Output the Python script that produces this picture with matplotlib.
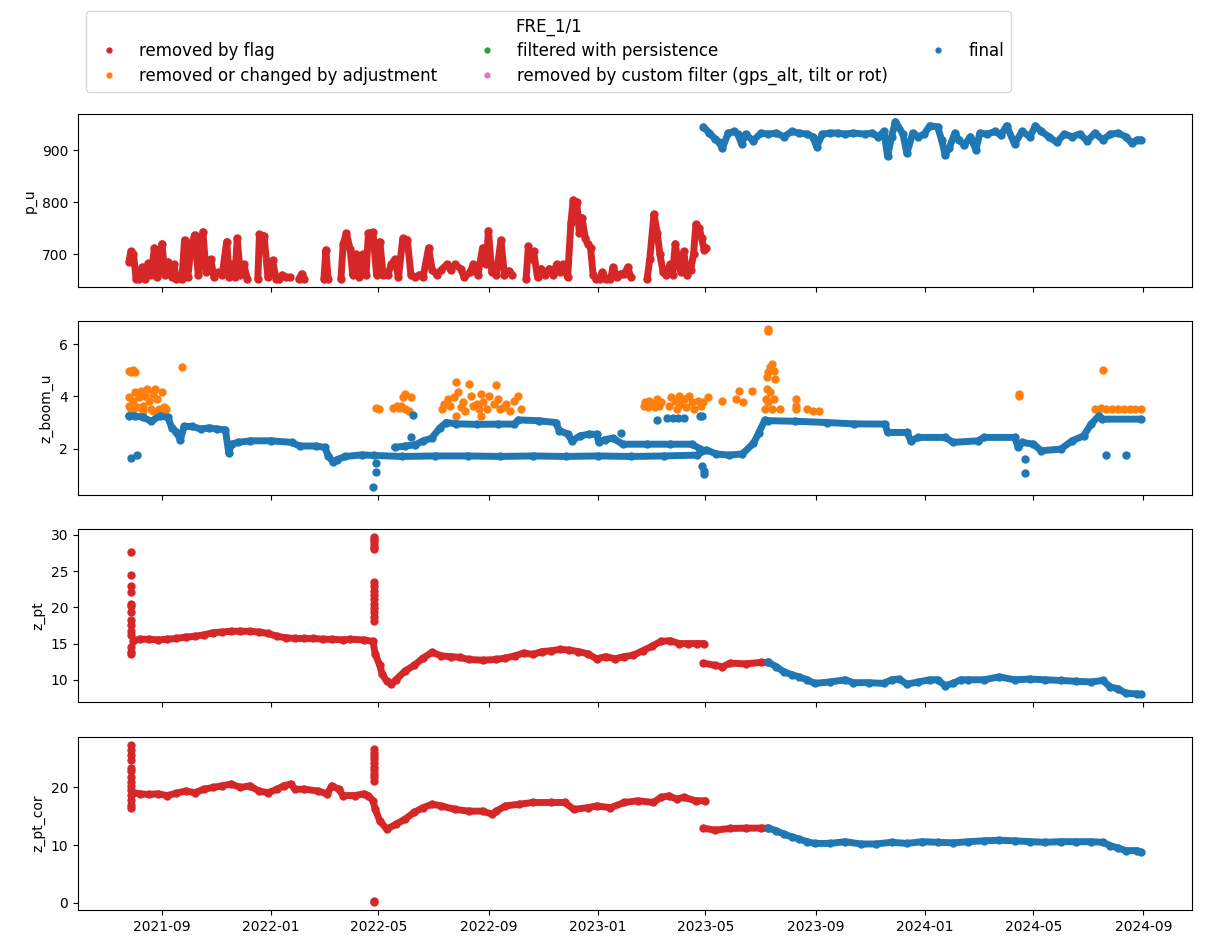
import numpy as np
import pandas as pd
import matplotlib
matplotlib.use('Agg')
import matplotlib.pyplot as plt
import matplotlib.dates as mdates
from matplotlib.lines import Line2D

nan = np.nan

# times are decimal years
# ---------------- p_u ----------------
pu_flag_t = [2021.565, 2021.571, 2021.579, 2021.587, 2021.596, 2021.606, 2021.615, 2021.624, 2021.633, 2021.643,
             2021.652, 2021.666, 2021.675, 2021.685, 2021.696, 2021.703, 2021.710, 2021.727, 2021.735, 2021.745,
             2021.755, 2021.766, 2021.777, 2021.791, 2021.801, 2021.815, 2021.825, 2021.836, 2021.850, 2021.864,
             2021.872, 2021.881, 2021.889, 2021.896, 2021.906, 2021.916, 2021.927, 2021.940, 2021.959, 2021.964,
             2021.978, 2021.990, 2022.004, 2022.015, 2022.025, 2022.034, 2022.045, 2022.057, 2022.070, 2022.085,
             2022.093, 2022.101, 2022.130, 2022.161, 2022.167, 2022.174, 2022.190, 2022.213, 2022.220, 2022.230,
             2022.241, 2022.249, 2022.258, 2022.269, 2022.280, 2022.290, 2022.297, 2022.311, 2022.322, 2022.332,
             2022.342, 2022.356, 2022.367, 2022.378, 2022.389, 2022.402, 2022.416, 2022.427, 2022.439, 2022.453,
             2022.464, 2022.481, 2022.492, 2022.506, 2022.520, 2022.537, 2022.548, 2022.562, 2022.579, 2022.590,
             2022.607, 2022.618, 2022.632, 2022.646, 2022.657, 2022.664, 2022.674, 2022.688, 2022.702, 2022.713,
             2022.727, 2022.737, 2022.760, 2022.779, 2022.786, 2022.795, 2022.802, 2022.814, 2022.825, 2022.836,
             2022.850, 2022.861, 2022.872, 2022.883, 2022.892, 2022.906, 2022.916, 2022.923, 2022.934, 2022.942,
             2022.950, 2022.960, 2022.967, 2022.976, 2022.984, 2022.992, 2022.998, 2023.004, 2023.012, 2023.023,
             2023.030, 2023.037, 2023.045, 2023.058, 2023.068, 2023.079, 2023.090, 2023.099, 2023.120, 2023.149,
             2023.157, 2023.170, 2023.180, 2023.188, 2023.198, 2023.207, 2023.219, 2023.227, 2023.235, 2023.244,
             2023.253, 2023.261, 2023.270, 2023.282, 2023.291, 2023.298, 2023.308, 2023.316, 2023.323, 2023.330]
pu_flag_v = [685, 705, 700, 652, 652, 675, 652, 682, 660, 712,
             655, 720, 660, 685, 655, 680, 652, 652, 727, 655,
             715, 737, 660, 743, 665, 690, 655, 665, 660, 724,
             655, 680, 655, 730, 660, 680, 652, nan, 652, 738,
             735, 655, 688, 652, 652, 660, 655, 655, nan, 652,
             662, 652, nan, 652, 708, 652, nan, 652, 720, 740,
             710, 660, 700, 655, 700, 660, 740, 742, 660, 724,
             660, 660, 680, 690, 655, 730, 728, 660, 655, 660,
             655, 712, 670, 660, 670, 680, 670, 680, 672, 655,
             665, 680, 660, 712, 680, 745, 665, 660, 727, 660,
             668, 660, nan, 652, 715, 690, 705, 655, 672, 660,
             672, 660, 680, 665, 680, 655, 760, 804, 800, 740,
             770, 730, 720, 712, 660, 652, nan, 652, 665, 652,
             nan, 652, 675, 655, 662, 662, 675, 655, nan, 652,
             690, 777, 740, 700, 665, 660, 680, 660, 720, 680,
             665, 705, 660, 670, 700, 757, 750, 730, 708, 712]

pu_final_t = [2023.321, 2023.338, 2023.356, 2023.368, 2023.379, 2023.397, 2023.415, 2023.426, 2023.438, 2023.450,
              2023.473, 2023.497, 2023.520, 2023.544, 2023.567, 2023.591, 2023.614, 2023.638, 2023.655, 2023.667,
              2023.685, 2023.708, 2023.732, 2023.755, 2023.779, 2023.814, 2023.837, 2023.855, 2023.873, 2023.884,
              2023.896, 2023.908, 2023.931, 2023.943, 2023.961, 2023.978, 2023.996, 2024.013, 2024.037, 2024.049,
              2024.060, 2024.072, 2024.090, 2024.101, 2024.119, 2024.137, 2024.154, 2024.166, 2024.189, 2024.213,
              2024.230, 2024.248, 2024.272, 2024.295, 2024.319, 2024.336, 2024.354, 2024.377, 2024.401, 2024.424,
              2024.448, 2024.471, 2024.495, 2024.518, 2024.542, 2024.565, 2024.589, 2024.612, 2024.630, 2024.647,
              2024.659]
pu_final_v = [945, 934, 922, 916, 904, 933, 936, 931, 912, 931,
              918, 933, 931, 933, 926, 936, 933, 931, 926, 907,
              931, 933, 933, 931, 933, 931, 933, 926, 936, 888,
              926, 955, 931, 894, 933, 926, 931, 947, 945, 920,
              891, 904, 933, 920, 910, 926, 901, 933, 931, 936,
              929, 947, 912, 936, 926, 947, 936, 926, 915, 931,
              926, 931, 918, 933, 920, 931, 933, 926, 914, 920,
              920]

# ---------------- z_boom_u ----------------
boom_final_t = [2021.564, 2021.583, 2021.608, 2021.633, 2021.659, 2021.684, 2021.696, 2021.709, 2021.722, 2021.734,
                2021.759, 2021.785, 2021.810, 2021.835, 2021.860, 2021.870, 2021.879, 2021.898, 2021.936, 2021.999,
                2022.062, 2022.087, 2022.138, 2022.163, 2022.175, 2022.188, 2022.201, 2022.226, 2022.276, 2022.314,
                2022.400, 2022.500, 2022.600, 2022.700, 2022.800, 2022.900, 2023.000, 2023.100, 2023.200, 2023.300,
                2023.330, 2023.360, 2023.400, 2023.440, 2023.474, 2023.490, 2023.509, 2023.520, 2023.600, 2023.700,
                2023.780, 2023.876, 2023.884, 2023.943, 2023.955, 2023.978, 2024.060, 2024.084, 2024.160, 2024.178,
                2024.272, 2024.284, 2024.295, 2024.330, 2024.354, 2024.413, 2024.448, 2024.483, 2024.506, 2024.530,
                2024.540, 2024.659]
boom_final_v = [3.26, 3.25, 3.20, 3.05, 3.25, 3.20, 2.80, 2.65, 2.35, 2.85,
                2.85, 2.75, 2.80, 2.75, 2.72, 1.85, 2.17, 2.24, 2.30, 2.30,
                2.24, 2.10, 2.10, 2.05, 1.72, 1.50, 1.58, 1.70, 1.76, 1.74,
                1.70, 1.72, 1.72, 1.70, 1.72, 1.70, 1.72, 1.70, 1.72, 1.75,
                1.95, 1.80, 1.75, 1.80, 2.20, 2.60, 3.10, 3.07, 3.05, 3.00,
                2.95, 2.94, 2.62, 2.62, 2.30, 2.43, 2.43, 2.24, 2.30, 2.43,
                2.43, 2.05, 2.24, 2.17, 1.92, 1.98, 2.30, 2.49, 2.94, 3.26,
                3.13, 3.13]
boom_upper_t = [2022.377, 2022.410, 2022.440, 2022.465, 2022.490, 2022.516, 2022.535, 2022.566, 2022.629, 2022.692,
                2022.743, 2022.755, 2022.818, 2022.869, 2022.881, 2022.906, 2022.919, 2022.944, 2022.970, 2022.995,
                2023.001, 2023.020, 2023.045, 2023.074, 2023.150, 2023.220, 2023.286, 2023.310]
boom_upper_v = [2.05, 2.10, 2.15, 2.30, 2.40, 2.80, 3.00, 2.95, 2.93, 2.94,
                2.94, 3.10, 3.07, 3.00, 2.69, 2.56, 2.30, 2.49, 2.55, 2.55,
                2.24, 2.35, 2.40, 2.17, 2.17, 2.17, 2.17, 2.00]
boom_dots_t = [2021.570, 2021.589, 2022.312, 2022.320, 2022.320, 2022.434, 2022.427, 2023.070, 2023.178, 2023.209,
               2023.227, 2023.244, 2023.262, 2023.311, 2023.318, 2023.318, 2023.323, 2023.323, 2024.303, 2024.303,
               2024.551, 2024.614]
boom_dots_v = [1.66, 1.76, 0.54, 1.12, 1.44, 3.29, 2.45, 2.60, 3.10, 3.17,
               3.17, 3.17, 3.17, 3.24, 3.24, 1.34, 1.02, 1.15, 1.62, 1.05,
               1.75, 1.75]
boom_adj_t = [2021.564, 2021.570, 2021.577, 2021.583, 2021.564, 2021.564, 2021.570, 2021.577, 2021.583, 2021.589,
              2021.595, 2021.602, 2021.608, 2021.614, 2021.621, 2021.627, 2021.633, 2021.640, 2021.646, 2021.652,
              2021.658, 2021.665, 2021.671, 2021.677, 2021.573, 2021.608, 2021.640, 2021.665, 2021.728,
              2022.320, 2022.329, 2022.371, 2022.383, 2022.390, 2022.396, 2022.402, 2022.408, 2022.408, 2022.427,
              2022.421,
              2022.522, 2022.528, 2022.541, 2022.547, 2022.560, 2022.566, 2022.572, 2022.579, 2022.585, 2022.591,
              2022.604, 2022.610, 2022.616, 2022.629, 2022.635, 2022.642, 2022.648, 2022.661, 2022.667, 2022.680,
              2022.686, 2022.692, 2022.698, 2022.711, 2022.717, 2022.730, 2022.743, 2022.755, 2022.762, 2022.566,
              2022.642,
              2023.139, 2023.142, 2023.151, 2023.156, 2023.168, 2023.174, 2023.180, 2023.186, 2023.192, 2023.215,
              2023.221, 2023.233, 2023.239, 2023.245, 2023.250, 2023.262, 2023.268, 2023.276, 2023.286, 2023.291,
              2023.303, 2023.315, 2023.321, 2023.335, 2023.379, 2023.421, 2023.429, 2023.441, 2023.471,
              2023.509, 2023.511, 2023.514, 2023.516, 2023.520, 2023.526, 2023.532, 2023.538, 2023.541, 2023.520,
              2023.526, 2023.532, 2023.538, 2023.518, 2023.518, 2023.556, 2023.603, 2023.605, 2023.605, 2023.638,
              2023.655, 2023.673, 2024.287, 2024.287, 2024.544, 2024.518, 2024.536, 2024.553, 2024.571, 2024.589,
              2024.606, 2024.624, 2024.641, 2024.659]
boom_adj_v = [4.99, 4.93, 5.02, 4.95, 3.97, 3.65, 3.52, 3.84, 4.16, 3.58,
              3.97, 4.22, 3.65, 4.03, 4.29, 3.84, 3.52, 4.10, 4.29, 3.90,
              3.52, 4.16, 3.58, 3.52, 3.45, 3.45, 3.45, 3.45, 5.12,
              3.56, 3.52, 3.56, 3.65, 3.56, 3.65, 3.97, 4.10, 3.52, 3.97,
              3.45,
              3.52, 3.71, 3.90, 3.65, 3.97, 4.55, 4.16, 3.58, 3.78, 3.45,
              4.48, 4.03, 3.65, 3.71, 3.52, 4.10, 3.78, 3.52, 4.03, 3.71,
              4.42, 3.90, 3.52, 3.58, 3.71, 3.45, 3.84, 4.01, 3.52, 3.26,
              3.26,
              3.65, 3.78, 3.58, 3.84, 3.71, 3.58, 3.90, 3.65, 3.78, 3.65,
              3.97, 3.84, 3.52, 4.01, 3.71, 3.90, 3.58, 4.01, 3.78, 3.52,
              3.84, 3.65, 3.78, 3.97, 3.84, 3.90, 4.22, 3.78, 4.22,
              3.52, 3.90, 4.29, 4.74, 4.93, 5.12, 5.25, 4.99, 4.67, 3.78,
              4.16, 3.52, 3.90, 6.57, 6.49, 3.52, 3.90, 3.65, 3.52, 3.52,
              3.45, 3.45, 4.10, 4.01, 5.02, 3.52, 3.55, 3.50, 3.52, 3.50,
              3.52, 3.50, 3.52, 3.50]

# ---------------- z_pt ----------------
zpt_flag_t = [2021.578, 2021.598, 2021.626, 2021.654, 2021.682, 2021.710, 2021.738, 2021.766, 2021.794, 2021.822,
              2021.850, 2021.878, 2021.906, 2021.934, 2021.962, 2021.990, 2022.018, 2022.045, 2022.073, 2022.101,
              2022.129, 2022.157, 2022.185, 2022.220, 2022.241, 2022.283, 2022.311, 2022.318, 2022.332, 2022.339,
              2022.353, 2022.367, 2022.381, 2022.409, 2022.437, 2022.464, 2022.492, 2022.520, 2022.548, 2022.576,
              2022.604, 2022.646, 2022.688, 2022.716, 2022.744, 2022.772, 2022.800, 2022.828, 2022.855, 2022.883,
              2022.911, 2022.939, 2022.967, 2022.995, 2023.023, 2023.051, 2023.079, 2023.107, 2023.135, 2023.163,
              2023.191, 2023.219, 2023.247, 2023.274, 2023.302, 2023.323, 2023.322, 2023.321, 2023.356, 2023.379,
              2023.403, 2023.450, 2023.497, 2023.520]
zpt_flag_v = [15.4, 15.6, 15.6, 15.5, 15.6, 15.7, 15.9, 16.0, 16.2, 16.5,
              16.6, 16.7, 16.7, 16.7, 16.6, 16.4, 16.0, 15.8, 15.7, 15.7,
              15.7, 15.6, 15.6, 15.5, 15.6, 15.5, 15.3, 13.5, 12.0, 10.8,
              9.8, 9.4, 10.0, 11.2, 12.0, 13.0, 13.8, 13.3, 13.2, 13.1,
              12.8, 12.7, 12.8, 13.0, 13.3, 13.7, 13.5, 13.9, 14.0, 14.2,
              14.1, 13.9, 13.6, 12.9, 13.2, 12.9, 13.2, 13.4, 14.0, 14.6,
              15.3, 15.4, 15.0, 15.0, 15.0, 15.0, nan, 12.3, 12.0, 11.8,
              12.3, 12.2, 12.4, 12.4]
zpt_spike_t = [2021.571] * 14 + [2022.314] * 16
zpt_spike_v = [27.6, 24.4, 23.0, 22.1, 20.5, 20.2, 19.3, 18.3, 17.5, 16.7, 16.2, 14.5, 13.8, 13.5,
               29.7, 29.4, 29.1, 28.7, 28.3, 28.0, 23.5, 22.9, 22.3, 21.7, 21.1, 20.5, 19.9, 19.3, 18.7, 18.1]
zpt_final_t = [2023.520, 2023.544, 2023.567, 2023.591, 2023.614, 2023.638, 2023.661, 2023.708, 2023.755, 2023.779,
               2023.826, 2023.872, 2023.896, 2023.919, 2023.943, 2023.978, 2024.013, 2024.037, 2024.060, 2024.084,
               2024.107, 2024.131, 2024.178, 2024.225, 2024.272, 2024.319, 2024.366, 2024.413, 2024.459, 2024.506,
               2024.542, 2024.565, 2024.589, 2024.612, 2024.647, 2024.659]
zpt_final_v = [12.4, 11.8, 11.1, 10.7, 10.4, 10.0, 9.5, 9.7, 10.0, 9.6,
               9.6, 9.5, 10.0, 10.1, 9.4, 9.7, 10.0, 10.0, 9.2, 9.5,
               10.0, 10.0, 10.0, 10.4, 10.0, 10.1, 10.0, 9.9, 9.8, 9.7,
               9.9, 9.0, 8.75, 8.15, 8.05, 7.97]

# ---------------- z_pt_cor ----------------
cor_flag_t = [2021.578, 2021.598, 2021.626, 2021.654, 2021.682, 2021.710, 2021.738, 2021.766, 2021.794, 2021.822,
              2021.850, 2021.878, 2021.906, 2021.934, 2021.962, 2021.990, 2022.018, 2022.038, 2022.059, 2022.073,
              2022.101, 2022.143, 2022.171, 2022.185, 2022.206, 2022.220, 2022.255, 2022.283, 2022.297, 2022.311,
              2022.318, 2022.332, 2022.353, 2022.381, 2022.409, 2022.437, 2022.464, 2022.492, 2022.520, 2022.562,
              2022.604, 2022.646, 2022.674, 2022.688, 2022.716, 2022.758, 2022.800, 2022.855, 2022.897, 2022.925,
              2022.967, 2022.995, 2023.037, 2023.079, 2023.121, 2023.168, 2023.192, 2023.215, 2023.239, 2023.262,
              2023.297, 2023.327, 2023.324, 2023.321, 2023.356, 2023.403, 2023.450, 2023.497, 2023.520]
cor_flag_v = [19.1, 18.9, 18.8, 18.9, 18.6, 19.0, 19.4, 19.1, 19.7, 20.0,
              20.3, 20.6, 20.0, 20.3, 19.4, 19.1, 19.7, 20.3, 20.6, 19.7,
              19.7, 19.4, 18.9, 20.3, 19.7, 18.6, 18.6, 18.9, 18.6, 17.7,
              16.2, 14.2, 12.8, 13.6, 14.5, 15.7, 16.5, 17.1, 16.8, 16.2,
              15.9, 15.9, 15.4, 15.9, 16.8, 17.1, 17.4, 17.4, 17.4, 16.2,
              16.5, 16.8, 16.5, 17.4, 17.7, 17.4, 18.3, 18.55, 18.0, 18.3,
              17.7, 17.7, nan, 12.95, 12.6, 12.9, 12.95, 12.95, 12.95]
cor_spike_t = [2021.571] * 14 + [2022.314] * 12
cor_spike_v = [27.4, 26.5, 25.6, 24.8, 23.4, 22.8, 21.8, 20.9, 20.2, 19.5, 18.7, 17.8, 17.0, 16.5,
               26.6, 26.0, 25.4, 24.9, 24.2, 23.6, 23.0, 22.4, 21.8, 21.2, 0.1, 0.3]
cor_final_t = [2023.520, 2023.544, 2023.567, 2023.591, 2023.614, 2023.638, 2023.661, 2023.708, 2023.755, 2023.802,
               2023.849, 2023.896, 2023.943, 2023.990, 2024.037, 2024.084, 2024.131, 2024.178, 2024.225, 2024.272,
               2024.319, 2024.366, 2024.413, 2024.459, 2024.506, 2024.542, 2024.565, 2024.589, 2024.612, 2024.647,
               2024.659]
cor_final_v = [12.95, 12.5, 11.9, 11.45, 11.05, 10.6, 10.3, 10.3, 10.6, 10.2,
               10.2, 10.5, 10.3, 10.6, 10.5, 10.4, 10.6, 10.75, 10.85, 10.75,
               10.6, 10.5, 10.6, 10.6, 10.6, 10.5, 9.9, 9.5, 9.05, 9.05,
               8.75]

legend_labels = ['removed by flag', 'removed or changed by adjustment', 'filtered with persistence',
                 'removed by custom filter (gps_alt, tilt or rot)', 'final']
legend_colors = ['#d62728', '#ff7f0e', '#2ca02c', '#e377c2', '#1f77b4']
RED, ORANGE, BLUE = '#d62728', '#ff7f0e', '#1f77b4'
MS = 10
LW = 5


def to_dates(years):
    years = np.asarray(years, dtype=float)
    return pd.Timestamp('2021-01-01') + pd.to_timedelta((years - 2021.0) * 365.25, unit='D')


def band(ax, t, v, c):
    ax.plot(to_dates(t), v, '-', color=c, lw=LW, solid_capstyle='round', solid_joinstyle='round')
    ax.plot(to_dates(t), v, '.', color=c, ms=MS)


def dots(ax, t, v, c):
    ax.plot(to_dates(t), v, '.', color=c, ms=MS, linestyle='none')


fig, axes = plt.subplots(4, 1, figsize=(12.05, 9.48), dpi=100, sharex=True)
plt.subplots_adjust(left=0.0647, right=0.989, top=0.880, bottom=0.040, hspace=0.2)

ax = axes[0]
band(ax, pu_flag_t, pu_flag_v, RED)
band(ax, pu_final_t, pu_final_v, BLUE)
ax.set_ylabel('p_u')

ax = axes[1]
dots(ax, boom_adj_t, boom_adj_v, ORANGE)
band(ax, boom_final_t, boom_final_v, BLUE)
band(ax, boom_upper_t, boom_upper_v, BLUE)
dots(ax, boom_dots_t, boom_dots_v, BLUE)
ax.set_ylabel('z_boom_u')

ax = axes[2]
band(ax, zpt_flag_t, zpt_flag_v, RED)
dots(ax, zpt_spike_t, zpt_spike_v, RED)
band(ax, zpt_final_t, zpt_final_v, BLUE)
ax.set_ylabel('z_pt')

ax = axes[3]
band(ax, cor_flag_t, cor_flag_v, RED)
dots(ax, cor_spike_t, cor_spike_v, RED)
band(ax, cor_final_t, cor_final_v, BLUE)
ax.set_ylabel('z_pt_cor')
ax.xaxis.set_major_locator(mdates.MonthLocator(bymonth=[1, 5, 9]))
ax.xaxis.set_major_formatter(mdates.DateFormatter('%Y-%m'))

# legend order follows the 3 column layout
handles = [Line2D([], [], color=c, marker='.', linestyle='none', markersize=7) for c in legend_colors]
fig.legend(handles, legend_labels, title='FRE_1/1', ncol=3, loc='upper left',
           bbox_to_anchor=(0.0714, 0.9884), borderaxespad=0, fontsize=12, title_fontsize=12,
           labelspacing=0.38, borderpad=0.4)

fig.savefig('out.png', dpi=100)
